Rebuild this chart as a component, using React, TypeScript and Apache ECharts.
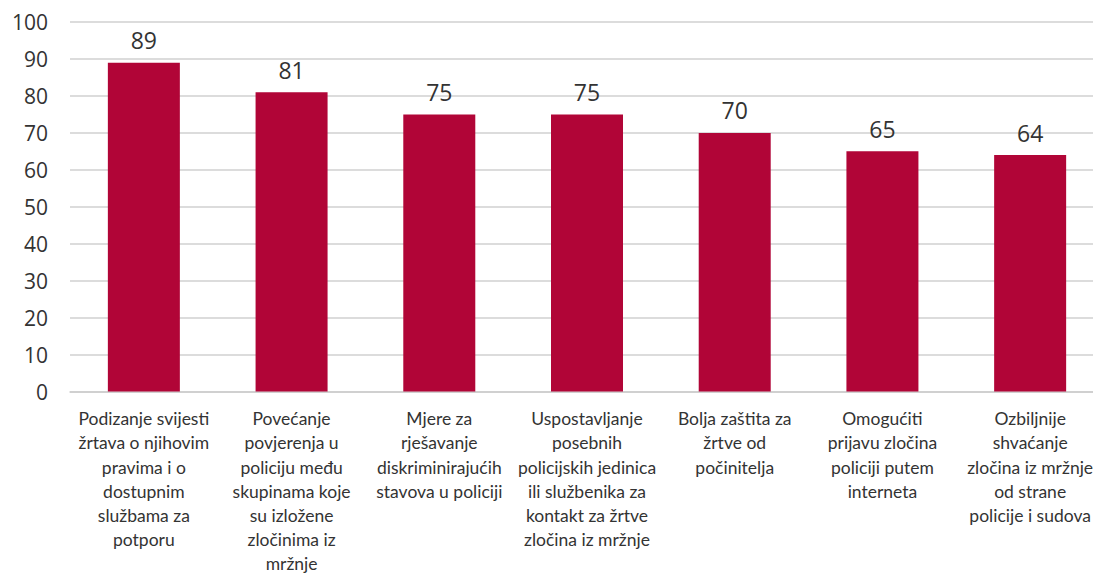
import React, { useEffect, useRef } from "react";
import * as echarts from "echarts";

const categories = [
  "Podizanje svijesti\nžrtava o njihovim\npravima i o\ndostupnim\nslužbama za\npotporu",
  "Povećanje\npovjerenja u\npoliciju među\nskupinama koje\nsu izložene\nzločinima iz\nmržnje",
  "Mjere za\nrješavanje\ndiskriminirajućih\nstavova u policiji",
  "Uspostavljanje\nposebnih\npolicijskih jedinica\nili službenika za\nkontakt za žrtve\nzločina iz mržnje",
  "Bolja zaštita za\nžrtve od\npočinitelja",
  "Omogućiti\nprijavu zločina\npoliciji putem\ninterneta",
  "Ozbiljnije\nshvaćanje\nzločina iz mržnje\nod strane\npolicije i sudova",
];
const values = [89, 81, 75, 75, 70, 65, 64];
const yTicks = [0, 100, 10];

export default function App() {
  const ref = useRef<HTMLDivElement>(null);
  useEffect(() => {
    if (!ref.current) return;
    const chart = echarts.init(ref.current, undefined, { renderer: "svg" });
    chart.setOption({
      animation: false,
      textStyle: { fontFamily: "Lato, 'Open Sans', sans-serif" },
      grid: { left: 70, right: 0, top: 22, bottom: 179, containLabel: false },
      xAxis: {
        type: "category",
        data: categories,
        axisLine: { show: true, lineStyle: { color: "#cccccc", width: 1.5 } },
        axisTick: { show: false },
        axisLabel: {
          interval: 0,
          color: "#333333",
          fontSize: 17.5,
          lineHeight: 24.2,
          margin: 15,
          align: "center",
          verticalAlign: "top",
        },
      },
      yAxis: {
        type: "value",
        min: yTicks[0],
        max: yTicks[1],
        interval: yTicks[2],
        axisLine: { show: false },
        axisTick: { show: false },
        splitLine: { lineStyle: { color: "#d0d0d0", width: 1.5 } },
        axisLabel: { color: "#333333", fontSize: 21, margin: 22, fontFamily: "'Open Sans', sans-serif" },
      },
      series: [
        {
          type: "bar",
          data: values,
          barWidth: 72,
          itemStyle: { color: "#B10537" },
          label: {
            show: true,
            position: "top",
            distance: 11,
            color: "#333333",
            fontSize: 23,
            fontFamily: "'Open Sans', sans-serif",
          },
        },
      ],
    });
    return () => chart.dispose();
  }, []);
  return (
    <div style={{ position: "fixed", left: 0, top: 0, width: 1093, height: 576, overflow: "hidden", background: "#fff" }}>
      <div ref={ref} style={{ width: 1104, height: 576 }} />
    </div>
  );
}
